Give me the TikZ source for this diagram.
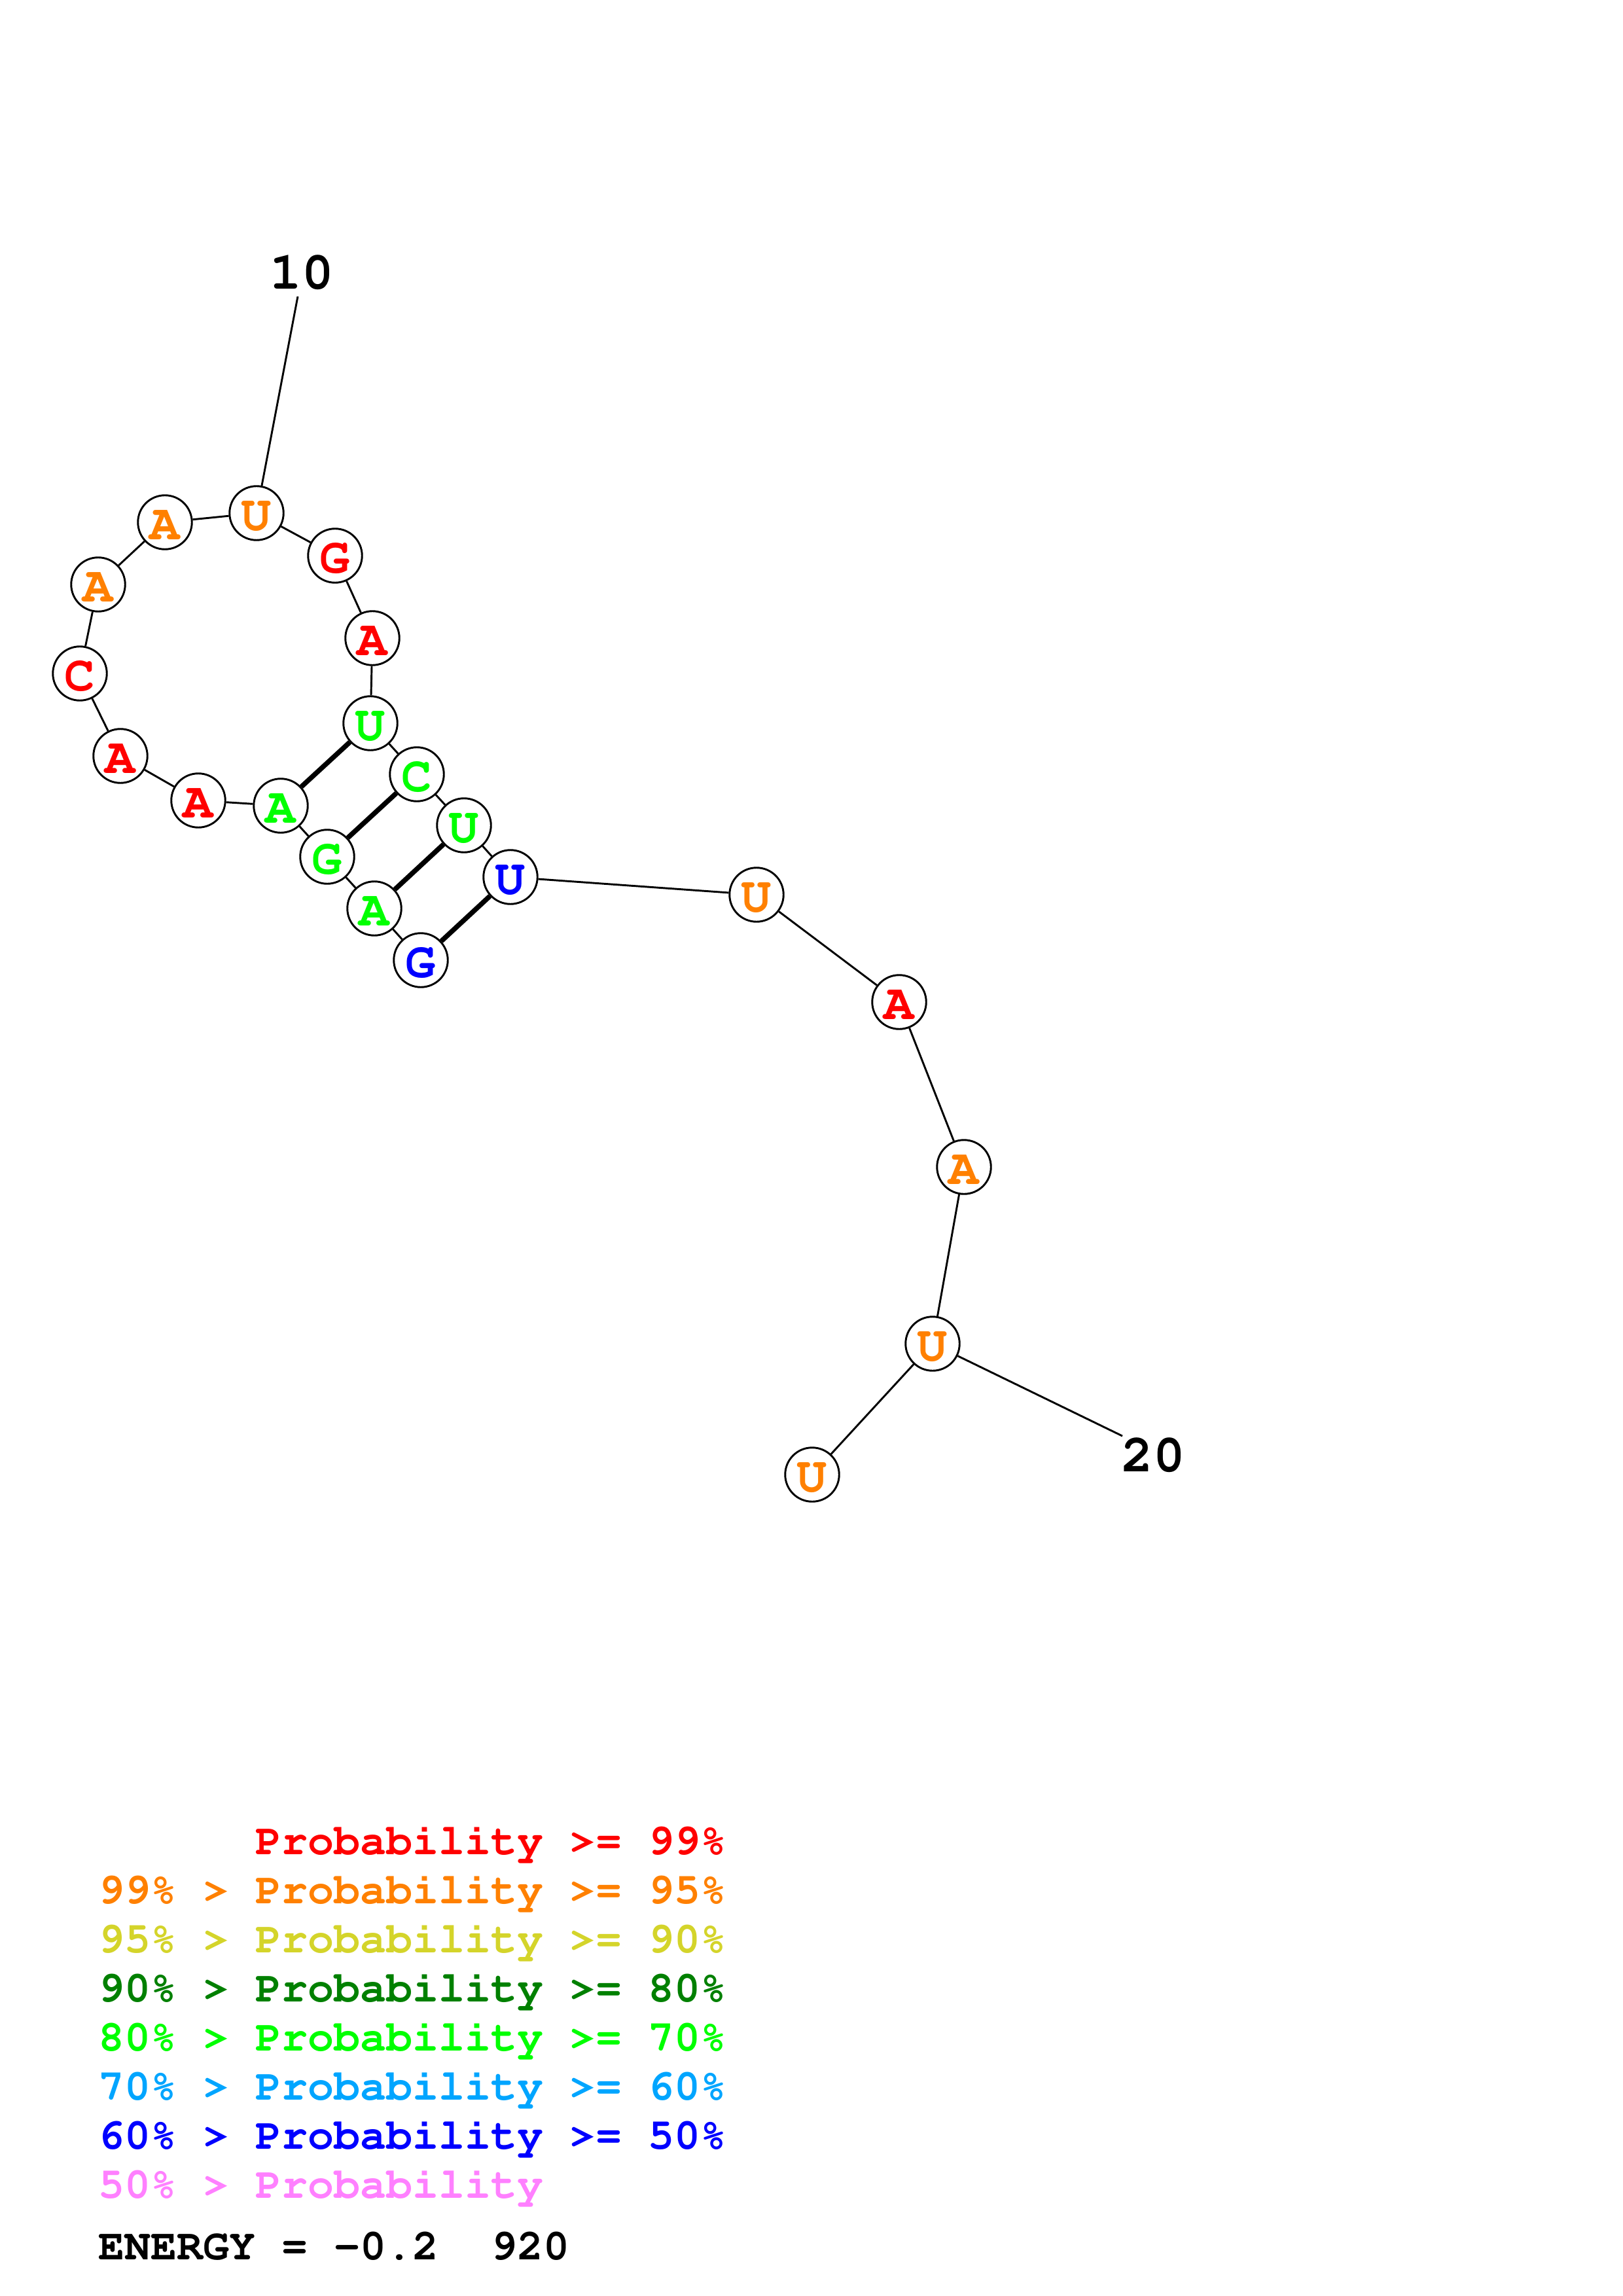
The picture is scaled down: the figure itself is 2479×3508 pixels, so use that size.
\documentclass[tikz,border=0pt]{standalone}
\usepackage[T1]{fontenc}
\usepackage{courier}
\usepackage{xcolor}
\usepackage{tikz}

\definecolor{pred}{RGB}{255,0,0}
\definecolor{porange}{RGB}{255,128,0}
\definecolor{pyellow}{RGB}{212,212,42}
\definecolor{pdgreen}{RGB}{0,128,0}
\definecolor{pgreen}{RGB}{0,255,0}
\definecolor{plblue}{RGB}{0,165,255}
\definecolor{pblue}{RGB}{0,0,255}
\definecolor{ppink}{RGB}{255,128,255}

\begin{document}
\begin{tikzpicture}[x=0.24pt, y=-0.24pt,
  ntbox/.style={circle, draw=black, line width=0.7pt, fill=white,
    minimum size=19.8pt, inner sep=0pt, text height=12.9pt, text depth=0pt,
    font=\fontsize{18.5}{18.5}\selectfont\ttfamily\bfseries},
  bbline/.style={line width=0.7pt},
  pairline/.style={line width=1.8pt},
  numlabel/.style={font=\fontsize{19.5}{19.5}\selectfont\ttfamily\bfseries},
  legline/.style={anchor=base west, inner sep=0pt,
    font=\fontsize{16}{16}\selectfont\ttfamily\bfseries}]
  \useasboundingbox (0,0) rectangle (2479,3508);

  % ── Nucleotides ──
  \foreach \i/\x/\y/\b/\col in {
    1/643/1467/G/pblue,    2/572/1388/A/pgreen,   3/500/1309/G/pgreen,
    4/429/1231/A/pgreen,   5/303/1223/A/pred,     6/184/1155/A/pred,
    7/122/1029/C/pred,     8/150/893/A/porange,   9/252/798/A/porange,
    10/392/784/U/porange,  11/512/849/G/pred,     12/569/975/A/pred,
    13/566/1105/U/pgreen,  14/637/1183/C/pgreen,  15/709/1261/U/pgreen,
    16/780/1340/U/pblue,   17/1156/1367/U/porange, 18/1374/1531/A/pred,
    19/1473/1783/A/porange, 20/1425/2053/U/porange, 21/1241/2253/U/porange} {
    \node[ntbox, text=\col] (n\i) at (\x,\y) {\b};
  }

  % ── Backbone ──
  \foreach \i [evaluate=\i as \j using int(\i+1)] in {1,...,20} {
    \draw[bbline] (n\i) -- (n\j);
  }

  % ── Base pairs ──
  \foreach \a/\b in {1/16, 2/15, 3/14, 4/13} {
    \draw[pairline] (n\a) -- (n\b);
  }

  % ── Position labels ──
  \node[numlabel] (lab10) at (461,417) {10};
  \coordinate (tick10) at (455,453);
  \draw[bbline] (n10) -- (tick10);
  \node[numlabel] (lab20) at (1762,2224) {20};
  \coordinate (tick20) at (1715,2194);
  \draw[bbline] (n20) -- (tick20);

  % ── Legend ──
  \node[legline, text=pred] (leg1) at (390,2833) {Probability >= 99\%};
  \foreach \k/\col/\txt in {
    2/porange/{99\% > Probability >= 95\%},
    3/pyellow/{95\% > Probability >= 90\%},
    4/pdgreen/{90\% > Probability >= 80\%},
    5/pgreen/{80\% > Probability >= 70\%},
    6/plblue/{70\% > Probability >= 60\%},
    7/pblue/{60\% > Probability >= 50\%},
    8/ppink/{50\% > Probability}} {
    \pgfmathsetmacro{\yy}{2833 + (\k-1)*75}
    \node[legline, text=\col] (leg\k) at (150,\yy) {\txt};
  }
  \node[legline] (energy) at (150,3452) {ENERGY = -0.2\ \ 920};
\end{tikzpicture}
\end{document}
